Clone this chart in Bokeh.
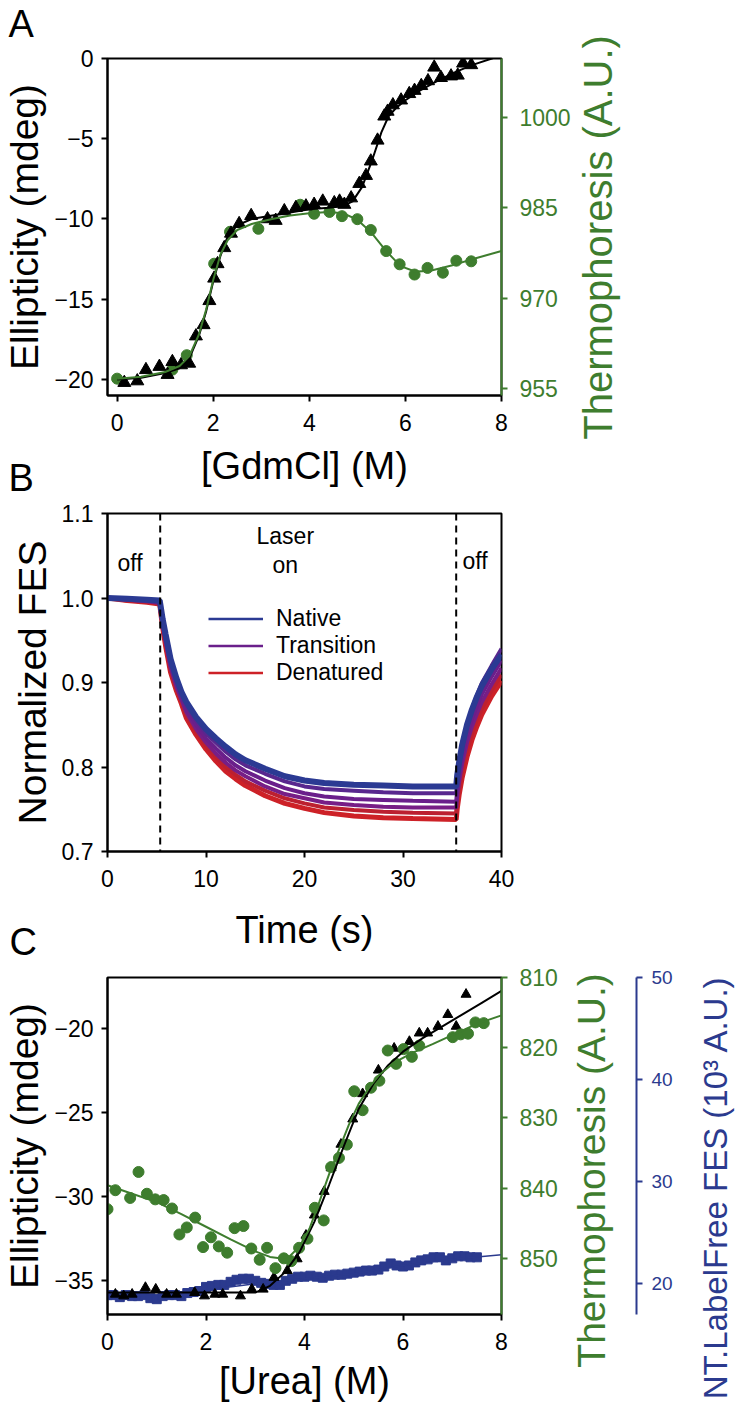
import math
from bokeh.plotting import figure
from bokeh.models import (Range1d, LinearAxis, FixedTicker, Label, Span, Legend,
                          LegendItem, PrintfTickFormatter)
from bokeh.layouts import column
from bokeh.embed import file_html
from bokeh.resources import INLINE

FONT = "Liberation Sans"
GREEN = "#3E7D2E"
NAVY = "#2B3A8E"

# ---------------- Panel A data : GdmCl ----------------
gdm_cd_x = [0.15, 0.42, 0.6, 0.88, 1.05, 1.15, 1.33, 1.5, 1.64, 1.8, 1.92, 2.02, 2.09,
            2.23, 2.37, 2.54, 2.79, 3.13, 3.3, 3.48, 3.72, 3.93, 4.1, 4.28, 4.52, 4.63,
            4.73, 4.87, 5.04, 5.18, 5.28, 5.42, 5.56, 5.63, 5.74, 5.91, 6.08, 6.19, 6.33,
            6.47, 6.6, 6.74, 6.95, 7.09, 7.2, 7.37]
gdm_cd_y = [-20.2, -20.1, -19.4, -19.2, -19.7, -18.9, -19.1, -19.0, -17.3, -16.6, -15.1,
            -13.7, -12.8, -11.8, -10.9, -10.3, -9.8, -10.0, -10.1, -9.5, -9.3, -9.2, -9.1,
            -8.9, -9.0, -8.9, -9.1, -8.7, -7.8, -7.3, -6.4, -5.1, -3.6, -3.3, -2.9, -2.6,
            -2.2, -2.0, -1.7, -1.4, -0.55, -1.2, -1.1, -1.05, -0.3, -0.4]
gdm_cd_fit_x = [0.0, 0.5, 1.0, 1.3, 1.5, 1.7, 1.85, 2.0, 2.15, 2.3, 2.5, 2.8, 3.2, 3.6, 4.0,
                4.4, 4.7, 4.9, 5.1, 5.3, 5.5, 5.65, 5.8, 6.0, 6.3, 6.6, 7.0, 7.4, 7.8, 8.0]
gdm_cd_fit_y = [-20.0, -19.9, -19.6, -19.3, -18.7, -17.3, -15.8, -13.9, -12.3, -11.1, -10.4,
                -10.0, -9.8, -9.6, -9.4, -9.3, -9.2, -8.9, -8.0, -6.4, -4.6, -3.6, -3.1,
                -2.6, -2.0, -1.5, -0.9, -0.4, 0.0, 0.25]
gdm_mst_x = [0.0, 1.15, 1.45, 2.02, 2.35, 2.94, 3.81, 4.1, 4.42, 4.68, 5.0, 5.28, 5.6, 5.88,
             6.19, 6.46, 6.78, 7.06, 7.37]
gdm_mst_y = [956.6, 958.1, 960.5, 975.7, 981.0, 981.5, 985.5, 984.0, 984.3, 983.6, 983.1,
             981.3, 977.8, 975.6, 973.9, 975.0, 974.2, 976.2, 976.1]
gdm_mst_fit_x = [0.0, 0.5, 1.0, 1.3, 1.5, 1.7, 1.85, 2.0, 2.15, 2.3, 2.5, 2.8, 3.2, 3.6, 4.0,
                 4.4, 4.7, 5.0, 5.3, 5.6, 5.9, 6.2, 6.5, 7.0, 7.5, 8.0]
gdm_mst_fit_y = [956.6, 956.9, 957.7, 958.7, 960.3, 963.9, 968.0, 973.0, 977.2, 979.6, 981.3,
                 982.3, 983.1, 983.7, 984.1, 984.3, 984.1, 983.0, 980.8, 977.8, 975.3, 974.4,
                 974.5, 975.5, 976.7, 977.8]

# ---------------- Panel B data : time traces ----------------
time_s = [0, 2, 4, 5.3, 5.4, 5.6, 5.9, 6.4, 7.0, 7.5, 8, 9, 10, 11, 12, 13, 14, 16, 18, 20,
          22, 25, 28, 31, 35.4, 35.5, 35.7, 36, 36.5, 37, 37.5, 38, 39, 40]
fes_native = [1.000, 0.999, 0.998, 0.997, 0.990, 0.975, 0.957, 0.928, 0.905, 0.889, 0.877,
              0.859, 0.845, 0.834, 0.824, 0.815, 0.808, 0.798, 0.789, 0.784, 0.781, 0.779,
              0.778, 0.777, 0.777, 0.790, 0.806, 0.826, 0.850, 0.868, 0.883, 0.896, 0.916, 0.933]
fes_trans1 = [1.000, 0.999, 0.997, 0.996, 0.989, 0.973, 0.954, 0.925, 0.902, 0.886, 0.873,
              0.855, 0.840, 0.829, 0.818, 0.809, 0.802, 0.792, 0.783, 0.777, 0.774, 0.772,
              0.770, 0.769, 0.769, 0.784, 0.802, 0.824, 0.850, 0.869, 0.885, 0.899, 0.920, 0.940]
fes_trans2 = [1.000, 0.998, 0.997, 0.995, 0.987, 0.971, 0.951, 0.921, 0.898, 0.883, 0.868,
              0.850, 0.834, 0.822, 0.811, 0.802, 0.795, 0.784, 0.775, 0.769, 0.765, 0.762,
              0.761, 0.760, 0.759, 0.773, 0.791, 0.812, 0.838, 0.857, 0.872, 0.886, 0.907, 0.926]
fes_trans3 = [1.000, 0.998, 0.996, 0.994, 0.985, 0.969, 0.948, 0.918, 0.895, 0.880, 0.865,
              0.845, 0.829, 0.816, 0.805, 0.796, 0.789, 0.777, 0.768, 0.763, 0.758, 0.755,
              0.753, 0.752, 0.752, 0.765, 0.783, 0.804, 0.829, 0.848, 0.863, 0.877, 0.898, 0.917]
fes_denat1 = [1.000, 0.997, 0.996, 0.994, 0.984, 0.967, 0.946, 0.915, 0.893, 0.878, 0.861,
              0.842, 0.825, 0.812, 0.800, 0.791, 0.783, 0.772, 0.763, 0.757, 0.752, 0.749,
              0.747, 0.746, 0.745, 0.757, 0.774, 0.795, 0.820, 0.840, 0.856, 0.869, 0.891, 0.909]
fes_denat2 = [1.000, 0.997, 0.995, 0.993, 0.983, 0.965, 0.943, 0.912, 0.890, 0.875, 0.858,
              0.838, 0.821, 0.807, 0.795, 0.786, 0.778, 0.766, 0.757, 0.751, 0.746, 0.742,
              0.740, 0.739, 0.738, 0.750, 0.767, 0.787, 0.812, 0.832, 0.848, 0.862, 0.884, 0.902]
laser_on_s = 5.35
laser_off_s = 35.4
legend_labels = ["Native", "Transition", "Denatured"]

# ---------------- Panel C data : Urea ----------------
urea_cd_x = [0.16, 0.33, 0.5, 0.77, 0.98, 1.2, 1.4, 1.77, 1.97, 2.18, 2.34, 2.7, 2.93, 3.16,
             3.38, 3.65, 3.85, 4.03, 4.2, 4.4, 4.54, 4.74, 4.98, 5.18, 5.5, 5.82, 6.13, 6.33,
             6.5, 6.71, 6.91, 7.08, 7.28]
urea_cd_y = [-35.8, -35.9, -35.8, -35.4, -35.5, -35.8, -35.8, -35.7, -35.9, -35.8, -35.8,
             -35.9, -35.5, -35.5, -34.8, -34.4, -33.7, -32.3, -31.1, -29.7, -28.3, -26.9,
             -25.4, -23.9, -22.5, -21.2, -20.8, -20.3, -20.3, -19.9, -19.2, -19.9, -18.0]
urea_cd_fit_x = [0.0, 1.0, 2.0, 3.0, 3.3, 3.6, 3.9, 4.2, 4.5, 4.8, 5.1, 5.4, 5.7, 6.0, 6.4,
                 6.8, 7.2, 7.6, 8.0]
urea_cd_fit_y = [-35.7, -35.7, -35.7, -35.7, -35.3, -34.5, -33.3, -31.5, -29.3, -27.0, -24.8,
                 -23.3, -22.2, -21.4, -20.6, -19.9, -19.2, -18.5, -17.8]
urea_mst_x = [0.0, 0.16, 0.46, 0.63, 0.8, 0.97, 1.14, 1.31, 1.46, 1.61, 1.78, 1.94, 2.1, 2.26,
              2.43, 2.58, 2.76, 2.92, 3.09, 3.24, 3.41, 3.58, 3.73, 3.89, 4.06, 4.21, 4.39,
              4.54, 4.7, 4.86, 5.01, 5.18, 5.35, 5.52, 5.69, 5.86, 6.01, 6.18, 6.33, 7.01,
              7.17, 7.32, 7.47, 7.64]
urea_mst_y = [843.0, 840.3, 841.4, 837.7, 840.8, 841.6, 841.7, 842.9, 846.6, 845.6, 844.2,
              848.4, 847.0, 848.3, 849.2, 845.7, 845.4, 848.6, 850.2, 848.5, 851.4, 850.0,
              850.4, 848.5, 847.2, 842.8, 844.6, 837.0, 835.7, 833.8, 826.2, 828.9, 825.7,
              824.7, 820.4, 822.3, 820.2, 821.3, 819.7, 818.5, 818.1, 818.0, 816.4, 816.5]
urea_mst_fit_x = [0.0, 0.5, 1.0, 1.5, 2.0, 2.5, 3.0, 3.3, 3.5, 3.7, 3.9, 4.1, 4.3, 4.5, 4.7,
                  4.9, 5.1, 5.3, 5.5, 5.8, 6.2, 6.6, 7.0, 7.5, 8.0]
urea_mst_fit_y = [839.6, 840.8, 842.0, 843.7, 845.5, 847.3, 849.0, 849.8, 850.0, 849.7, 848.3,
                  845.8, 842.0, 838.0, 834.5, 831.0, 828.0, 825.8, 824.0, 822.2, 820.7, 819.5,
                  818.2, 816.6, 815.4]
urea_fes_x = [0.0, 0.12, 0.25, 0.37, 0.5, 0.62, 0.75, 0.87, 1.0, 1.12, 1.25, 1.37, 1.5, 1.62,
              1.75, 1.87, 2.0, 2.12, 2.25, 2.37, 2.5, 2.62, 2.75, 2.87, 3.0, 3.12, 3.25, 3.37,
              3.5, 3.62, 3.75, 3.87, 4.0, 4.12, 4.25, 4.37, 4.5, 4.62, 4.75, 4.87, 5.0, 5.12,
              5.25, 5.37, 5.5, 5.62, 5.75, 5.87, 6.0, 6.12, 6.25, 6.37, 6.5, 6.62, 6.75, 6.87,
              7.0, 7.12, 7.25, 7.37, 7.5]
urea_fes_y = [18.9, 18.9, 18.7, 18.9, 18.8, 18.8, 18.9, 18.6, 18.5, 18.8, 18.9, 18.9, 18.8,
              19.1, 19.2, 19.3, 19.7, 19.8, 19.9, 19.9, 20.2, 20.4, 20.5, 20.5, 20.3, 20.1,
              20.0, 19.9, 19.9, 20.3, 20.5, 20.7, 20.7, 20.8, 20.7, 20.6, 20.8, 20.9, 20.9,
              21.0, 21.1, 21.2, 21.3, 21.3, 21.4, 21.7, 22.0, 21.8, 21.7, 21.8, 22.1, 22.3,
              22.4, 22.6, 22.6, 22.3, 22.5, 22.7, 22.7, 22.6, 22.6]
urea_fes_fit_x = [0, 1, 2, 3, 4, 5, 6, 7, 8]
urea_fes_fit_y = [18.8, 18.9, 19.4, 20.0, 20.5, 21.0, 21.8, 22.4, 22.85]


def style(ax, color="black", tick_size="23px", label_size="39px", tick_standoff=8,
          label_standoff=5, tick_out=6):
    ax.axis_line_color = color
    ax.axis_line_width = 2
    ax.major_tick_line_color = color
    ax.major_tick_line_width = 2
    ax.major_tick_in = 0
    ax.major_tick_out = tick_out
    ax.minor_tick_line_color = None
    ax.minor_tick_in = 0
    ax.minor_tick_out = 0
    ax.major_label_text_font = FONT
    ax.major_label_text_font_size = tick_size
    ax.major_label_text_color = color
    ax.major_label_standoff = tick_standoff
    ax.axis_label_text_font = FONT
    ax.axis_label_text_font_size = label_size
    ax.axis_label_text_font_style = "normal"
    ax.axis_label_text_color = color
    ax.axis_label_standoff = label_standoff


def base_fig(xr, yr, fh, top, bottom):
    p = figure(frame_width=394, frame_height=fh, x_range=xr, y_range=yr,
               output_backend="svg", toolbar_location=None,
               min_border_left=103, min_border_top=top, min_border_bottom=bottom,
               min_border_right=5)
    p.grid.visible = False
    p.outline_line_color = "black"
    p.outline_line_width = 2
    p.background_fill_color = "white"
    p.border_fill_color = "white"
    return p


def side_text(p, txt, x, y, size, color="black", angle=0.0, align="left"):
    # text outside the frame: placed in a side panel so that it is not clipped
    p.add_layout(Label(x=x, y=y, text=txt, text_font=FONT, text_font_size=size,
                       text_color=color, angle=angle, text_align=align,
                       text_baseline="middle"), "right")


# ======================= Figure A =======================
pA = base_fig(Range1d(-0.2, 8.0), Range1d(-21, 0), 337, 58, 105)
pA.extra_y_ranges = {"therm": Range1d(953.8, 1009.8)}
style(pA.yaxis[0])
pA.yaxis[0].ticker = FixedTicker(ticks=[-20, -15, -10, -5, 0])
pA.yaxis[0].axis_label = "Ellipticity (mdeg)"
style(pA.xaxis[0], tick_standoff=12, label_standoff=11, label_size="38px")
pA.xaxis[0].ticker = FixedTicker(ticks=[0, 2, 4, 6, 8])
pA.xaxis[0].axis_label = "[GdmCl] (M)"
axA_r = LinearAxis(y_range_name="therm", ticker=FixedTicker(ticks=[955, 970, 985, 1000]))
style(axA_r, color=GREEN, tick_standoff=12)
pA.add_layout(axA_r, "right")

pA.scatter(gdm_mst_x, gdm_mst_y, y_range_name="therm", marker="circle", size=11,
           fill_color=GREEN, line_color=GREEN)
pA.scatter(gdm_cd_x, gdm_cd_y, marker="triangle", size=13, fill_color="black",
           line_color="black")
pA.line(gdm_cd_fit_x, gdm_cd_fit_y, line_color="black", line_width=2)
pA.line(gdm_mst_fit_x, gdm_mst_fit_y, y_range_name="therm", line_color=GREEN, line_width=2)
side_text(pA, "Thermophoresis (A.U.)", 10.0, -11.15, "40px", GREEN, math.pi / 2, "center")
side_text(pA, "A", -2.26, 2.13, "38px")
side_text(pA, "B", -2.26, -26.16, "38px")

# ======================= Figure B =======================
pB = base_fig(Range1d(0, 40), Range1d(0.7, 1.1), 338, 13, 112)
style(pB.yaxis[0])
pB.yaxis[0].ticker = FixedTicker(ticks=[0.7, 0.8, 0.9, 1.0, 1.1])
pB.yaxis[0].formatter = PrintfTickFormatter(format="%.1f")
pB.yaxis[0].axis_label = "Normalized FES"
style(pB.xaxis[0], tick_standoff=12, label_standoff=19, label_size="38px")
pB.xaxis[0].ticker = FixedTicker(ticks=[0, 10, 20, 30, 40])
pB.xaxis[0].axis_label = "Time (s)"

leg_colors = ["#2B3A93", "#6A1F8B", "#CD2127"]
leg_renderers = []
for vals, col in zip([fes_native, fes_trans2, fes_denat2], leg_colors):
    leg_renderers.append(pB.line(time_s, vals, line_color=col, line_width=2.5))

traces = [(fes_denat2, "#CD2127", 5), (fes_denat1, "#BC2030", 4),
          (fes_trans3, "#771E86", 4), (fes_trans2, "#6A1F8B", 4),
          (fes_trans1, "#58278E", 4), (fes_native, "#2B3A93", 6)]
for vals, col, w in traces:
    pB.line(time_s, vals, line_color=col, line_width=w)

for loc in (laser_on_s, laser_off_s):
    pB.add_layout(Span(location=loc, dimension="height", line_color="black",
                       line_width=2, line_dash="7 5"))

for txt, x, y in [("off", 1.02, 1.042), ("Laser", 15.13, 1.0728), ("on", 16.75, 1.0396),
                  ("off", 36.04, 1.0432)]:
    pB.add_layout(Label(x=x, y=y, text=txt, text_font=FONT, text_font_size="23px",
                        text_color="black", text_align="left", text_baseline="middle"))

items = [LegendItem(label=lab, renderers=[r]) for lab, r in zip(legend_labels, leg_renderers)]
legB = Legend(items=items, location=(101, 165), padding=0, margin=0, spacing=-2,
              glyph_width=55, glyph_height=25, label_height=25, label_standoff=13,
              label_text_font=FONT, label_text_font_size="23px", label_text_color="black",
              border_line_color=None, background_fill_alpha=0, inactive_fill_alpha=0)
pB.add_layout(legB)
side_text(pB, "C", -9.95, 0.5931, "38px")

# ======================= Figure C =======================
pC = base_fig(Range1d(0, 8), Range1d(-37, -17), 337, 14, 95)
pC.extra_y_ranges = {"therm": Range1d(858, 810), "fes": Range1d(17, 50)}
style(pC.yaxis[0])
pC.yaxis[0].ticker = FixedTicker(ticks=[-35, -30, -25, -20])
pC.yaxis[0].axis_label = "Ellipticity (mdeg)"
style(pC.xaxis[0], tick_standoff=12, label_standoff=7, label_size="38px")
pC.xaxis[0].ticker = FixedTicker(ticks=[0, 2, 4, 6, 8])
pC.xaxis[0].axis_label = "[Urea] (M)"

axC_g = LinearAxis(y_range_name="therm", ticker=FixedTicker(ticks=[810, 820, 830, 840, 850]))
style(axC_g, color=GREEN, tick_standoff=12)
pC.add_layout(axC_g, "right")

spacer = LinearAxis(y_range_name="fes", ticker=FixedTicker(ticks=[]), axis_label="\u00a0")
spacer.axis_line_color = None
spacer.major_tick_line_color = None
spacer.minor_tick_line_color = None
spacer.major_tick_out = 0
spacer.minor_tick_out = 0
spacer.major_label_standoff = 0
spacer.major_label_text_font_size = "1px"
spacer.axis_label_text_font_size = "2px"
spacer.axis_label_text_color = None
spacer.axis_label_standoff = 71
pC.add_layout(spacer, "right")

axC_b = LinearAxis(y_range_name="fes", ticker=FixedTicker(ticks=[20, 30, 40, 50]))
style(axC_b, color=NAVY, tick_size="19px", tick_standoff=9)
pC.add_layout(axC_b, "right")

pC.scatter(urea_fes_x, urea_fes_y, y_range_name="fes", marker="square", size=9,
           fill_color=NAVY, line_color=NAVY)
pC.line(urea_fes_fit_x, urea_fes_fit_y, y_range_name="fes", line_color=NAVY, line_width=1.5)
pC.scatter(urea_cd_x, urea_cd_y, marker="triangle", size=10, fill_color="black",
           line_color="black")
pC.scatter(urea_mst_x, urea_mst_y, y_range_name="therm", marker="circle", size=11,
           fill_color=GREEN, line_color=GREEN)
pC.line(urea_cd_fit_x, urea_cd_fit_y, line_color="black", line_width=2)
pC.line(urea_mst_fit_x, urea_mst_fit_y, y_range_name="therm", line_color=GREEN, line_width=2)
side_text(pC, "Thermophoresis (A.U.)", 9.83, -28.45, "39px", GREEN, math.pi / 2, "center")
side_text(pC, "NT.LabelFree FES (10\u00b3 A.U.)", 12.35, -29.46, "33px", NAVY,
          math.pi / 2, "center")

layout = column(pA, pB, pC, spacing=0)
open("out.html", "w").write(file_html(layout, INLINE, "Figure"))
